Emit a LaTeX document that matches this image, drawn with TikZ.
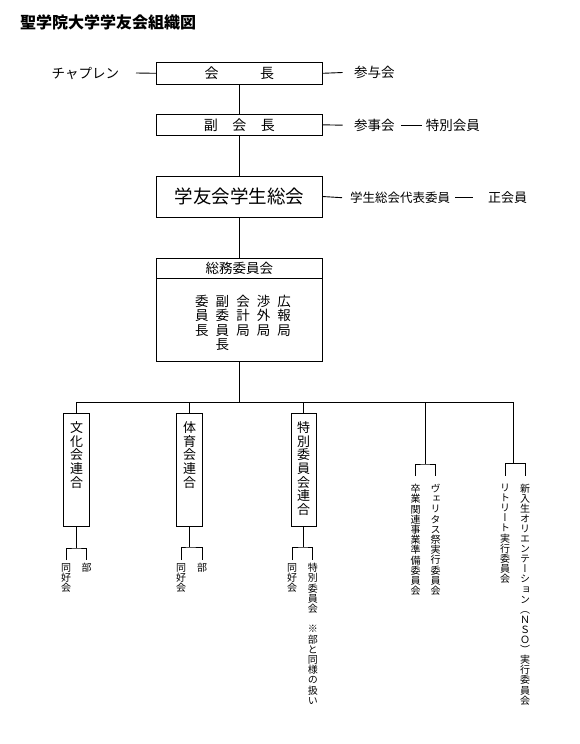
\documentclass[tikz,border=0pt]{standalone}
\usepackage{fontspec}
\setmainfont{Noto Sans CJK JP}
\newfontfamily\vjp[RawFeature=+vert]{Noto Sans CJK JP}
\makeatletter
\newcommand\vcol[2]{\vtop{\baselineskip=#1\lineskiplimit=-\maxdimen\lineskip=0pt
  \@tfor\vch:=#2\do{\hbox to 1em{\hss\vch\hss}}}}
\newcommand\vcolto[3]{\vbox to #2{\baselineskip=#1\lineskiplimit=-\maxdimen\lineskip=0pt
  \@tfor\vch:=#3\do{\hbox to 1em{\hss\vch\hss}}\vfill}}
\makeatother
\tikzset{
  ln/.style={line width=0.9pt, black},
  hbox/.style={draw, line width=0.9pt, inner sep=0pt, minimum width=165.5pt},
  lbl/.style={inner sep=0pt, font=\fontsize{13.5pt}{16pt}\selectfont},
  vbx/.style={draw, line width=0.9pt, inner sep=0pt, minimum width=25.5pt, minimum height=113pt, font=\vjp\fontsize{13pt}{14pt}\selectfont},
  sv/.style={inner xsep=0pt, inner ysep=8pt, anchor=north, font=\vjp\fontsize{10pt}{11pt}\selectfont},
  sl/.style={inner xsep=0pt, inner ysep=3pt, anchor=north, font=\vjp\fontsize{10pt}{11pt}\selectfont},
}
\begin{document}
\begin{tikzpicture}[x=1pt,y=-1pt]
\fill[white] (0,0) rectangle (579,744);
\useasboundingbox (0,0) rectangle (579,744);

\node[anchor=west, inner sep=0pt, font=\fontsize{16pt}{18pt}\selectfont\bfseries] (title) at (20,22.5) {聖学院大学学友会組織図};

% top boxes
\node[hbox, minimum height=22pt, font=\fontsize{14pt}{16pt}\selectfont] (kaicho) at (239.3,73.3) {会\hspace{41.5pt}長};
\node[hbox, minimum height=21pt, font=\fontsize{14pt}{16pt}\selectfont] (fuku) at (239.3,124.8) {副\hspace{14.5pt}会\hspace{14.5pt}長};
\node[hbox, minimum height=41pt, font=\fontsize{18.5pt}{20pt}\selectfont] (sokai) at (239.3,196.5) {学友会学生総会};
\node[hbox, minimum height=103pt] (soumu) at (239.3,309.5) {};
\node[lbl] (soumut) at (239.3,268.8) {総務委員会};
\draw[ln] ([yshift=-21pt]soumu.north west) -- ([yshift=-21pt]soumu.north east);
\node[anchor=north, inner sep=0pt, font=\fontsize{13.5pt}{14.4pt}\selectfont] (soumuc) at (243,295) {\vcol{14.4pt}{委員長}\hspace{7.1pt}\vcol{14.4pt}{副委員長}\hspace{7.1pt}\vcol{14.4pt}{会計局}\hspace{7.1pt}\vcol{14.4pt}{渉外局}\hspace{7.1pt}\vcol{14.4pt}{広報局}};

% side labels
\node[lbl, anchor=east] (chap) at (119.3,73) {チャプレン};
\draw[ln] ([xshift=16.7pt]chap.east) -- (kaicho.west);
\node[lbl, anchor=west] (sanyo) at (354,72.5) {参与会};
\draw[ln] (kaicho.east) -- ([xshift=-11.3pt]sanyo.west);
\node[lbl, anchor=west] (sanji) at (354,125.2) {参事会};
\draw[ln] (fuku.east) -- ([xshift=-11.3pt]sanji.west);
\node[lbl, anchor=west] (tokkai) at (425.7,125.2) {特別会員};
\draw[ln] ([xshift=6pt]sanji.east) -- ([xshift=-4pt]tokkai.west);
\node[lbl, anchor=west, font=\fontsize{12.5pt}{14pt}\selectfont] (daihyo) at (350,197.7) {学生総会代表委員};
\draw[ln] (sokai.east) -- ([xshift=-8pt]daihyo.west);
\node[lbl, anchor=west, font=\fontsize{13pt}{15pt}\selectfont] (seikai) at (488,197.7) {正会員};
\draw[ln] ([xshift=5pt]daihyo.east) -- ([xshift=-15pt]seikai.west);

% main spine
\draw[ln] (kaicho.south) -- (fuku.north);
\draw[ln] (fuku.south) -- (sokai.north);
\draw[ln] (sokai.south) -- (soumu.north);

% bus
\coordinate (busL) at (76.5,402);
\coordinate (busR) at (513,402);
\draw[ln] (soumu.south) -- (soumu.south |- busL);
\draw[ln] (busL) -- (busR);

% federations
\node[vbx] (bunka) at (76.5,469.5) {\vcolto{13.7pt}{96pt}{文化会連合}};
\node[vbx] (taiiku) at (189.5,469.5) {\vcolto{13.7pt}{96pt}{体育会連合}};
\node[vbx] (tokuren) at (303.7,469.5) {\vcolto{13.7pt}{96pt}{特別委員会連合}};
\draw[ln] (bunka.north) -- (bunka.north |- busL);
\draw[ln] (taiiku.north) -- (taiiku.north |- busL);
\draw[ln] (tokuren.north) -- (tokuren.north |- busL);

% right committees
\coordinate (gA) at (425,464);
\coordinate (gB) at (513,463.5);
\draw[ln] (gA |- busL) -- (gA);
\draw[ln] (busR) -- (gB);
\node[sv] (sotsu) at (415.5,476) {\vcol{10.2pt}{卒業関連事業準備委員会}};
\node[sv] (veri) at (435.5,476) {\vcol{10.2pt}{ヴェリタス祭実行委員会}};
\draw[ln] (sotsu.north) |- (gA) -| (veri.north);
\node[sv] (retreat) at (505,475.5) {\vcol{10.2pt}{リトリート実行委員会}};
\node[sv] (nso) at (525,475.5) {\vcol{10.1pt}{新入生オリエンテーション（ＮＳＯ）実行委員会}};
\draw[ln] (retreat.north) |- (gB) -| (nso.north);

% sub groups
\coordinate (jA) at (76.5,548);
\coordinate (jB) at (189.5,547);
\coordinate (jC) at (303.7,547);
\draw[ln] (bunka.south) -- (jA);
\draw[ln] (taiiku.south) -- (jB);
\draw[ln] (tokuren.south) -- (jC);
\node[sl] (bdo) at (66,560) {\vcol{10.2pt}{同好会}};
\node[sl] (bbu) at (86.7,560) {\vcol{10.2pt}{部}};
\draw[ln] (bdo.north) |- (jA) -| (bbu.north);
\node[sl] (tdo) at (181.2,560) {\vcol{10.2pt}{同好会}};
\node[sl] (tbu) at (202,560) {\vcol{10.2pt}{部}};
\draw[ln] (tdo.north) |- (jB) -| (tbu.north);
\node[sl] (kdo) at (292,560) {\vcol{10.2pt}{同好会}};
\node[sl] (kiin) at (312.8,560) {\vcol{10.2pt}{特別委員会　※部と同様の扱い}};
\draw[ln] (kdo.north) |- (jC) -| (kiin.north);
\end{tikzpicture}
\end{document}
